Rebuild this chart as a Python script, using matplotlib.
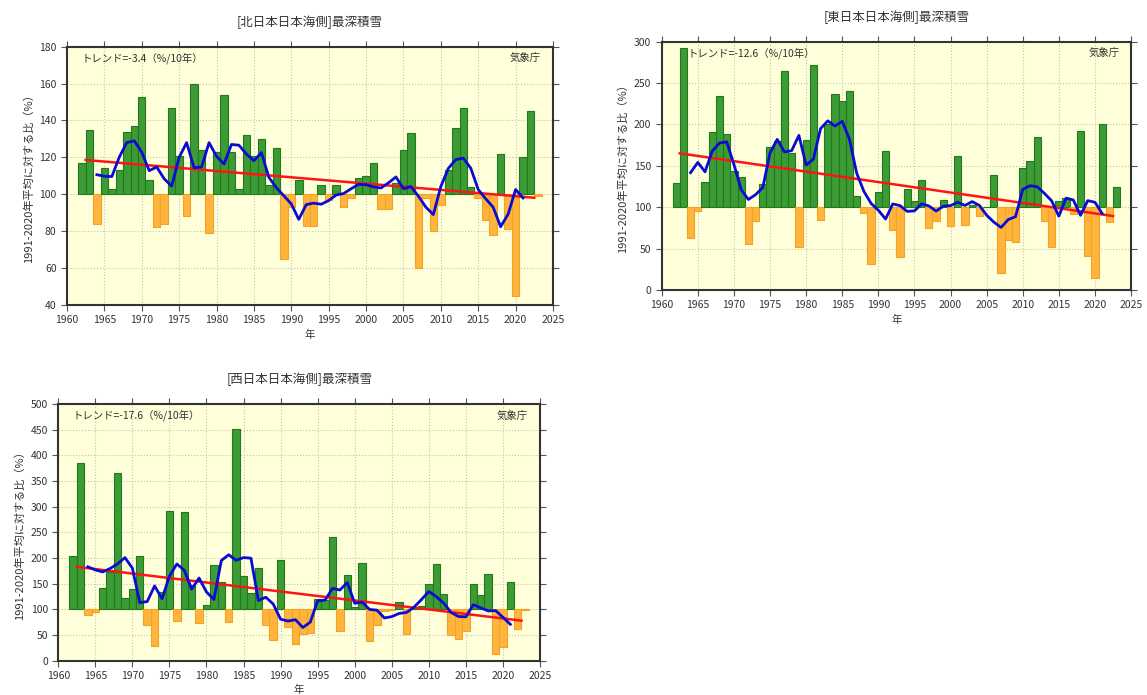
import numpy as np
import pandas as pd
import matplotlib
matplotlib.use("Agg")
import matplotlib.pyplot as plt

# fonte com japones
plt.rcParams['font.family'] = ['Noto Sans CJK JP', 'DejaVu Sans']

# anos (1962-2023)
anos = list(range(1962, 2024))

# razao do maior acumulo de neve em relacao a media 1991-2020 (%)
norte = [117, 135, 84, 114, 103, 113, 134, 137, 153, 108,
         82, 84, 147, 121, 88, 160, 124, 79, 123, 154,
         123, 103, 132, 121, 130, 105, 125, 65, 93, 108,
         83, 83, 105, 97, 105, 93, 98, 109, 110, 117,
         92, 92, 106, 124, 133, 60, 98, 80, 94, 113,
         136, 147, 104, 98, 86, 78, 122, 81, 45, 120,
         145, 99]

leste = [129, 292, 63, 95, 130, 191, 235, 188, 144, 137,
         55, 83, 128, 173, 180, 264, 165, 52, 181, 272,
         85, 200, 237, 228, 241, 113, 93, 31, 118, 168,
         72, 40, 122, 108, 133, 75, 83, 109, 77, 162,
         79, 103, 90, 100, 139, 20, 61, 58, 148, 156,
         185, 83, 52, 108, 111, 92, 192, 41, 15, 200,
         82, 124]

oeste = [203, 385, 89, 95, 142, 173, 365, 123, 140, 203,
         70, 29, 134, 292, 78, 290, 148, 73, 108, 186,
         154, 75, 452, 165, 132, 180, 69, 40, 197, 66,
         32, 51, 53, 121, 118, 240, 58, 167, 105, 191,
         38, 69, 96, 98, 115, 51, 100, 106, 149, 189,
         130, 50, 43, 58, 149, 127, 168, 13, 27, 153,
         62, 99]

titulos = ['[北日本日本海側]最深積雪', '[東日本日本海側]最深積雪', '[西日本日本海側]最深積雪']
tendencias = ['トレンド=-3.4（%/10年）', 'トレンド=-12.6（%/10年）', 'トレンド=-17.6（%/10年）']
ylabel = '1991-2020年平均に対する比（%）'


def painel(ax, valores, titulo, tendencia, xtexto, ymin, ymax, ystep):
    v = np.array(valores, dtype=float)
    cores = np.where(v >= 100, '#3d9b35', '#ffb53d')
    bordas = np.where(v >= 100, '#1f7a1c', '#f5a224')
    ax.bar(anos, v - 100, bottom=100, width=1.0, color=cores,
           edgecolor=bordas, linewidth=0.8, zorder=2)

    # media movel de 5 anos
    media = pd.Series(v, index=anos).rolling(5, center=True).mean()
    ax.plot(media.index, media.values, color='#0a0ad6', lw=2, zorder=4)

    # reta de tendencia
    a, b = np.polyfit(anos, v, 1)
    xt = np.array([anos[0] + 0.5, anos[-1] - 0.5])
    ax.plot(xt, a * xt + b, color='#ff1414', lw=1.8, zorder=3)

    ax.set_facecolor('#ffffda')
    ax.set_xlim(1960, 2025)
    ax.set_ylim(ymin, ymax)
    ax.set_xticks(range(1960, 2026, 5))
    ax.set_yticks(range(ymin, ymax + 1, ystep))
    ax.grid(True, color='#c4c4b0', linestyle=':', lw=0.8, zorder=0)
    ax.set_axisbelow(True)
    ax.tick_params(direction='out', top=True, right=True, length=4,
                   labelsize=7.5, labelcolor='#333333', color='#555555')
    for s in ax.spines.values():
        s.set_linewidth(1.5)
        s.set_color('#333333')

    ax.set_title(titulo, fontsize=9, color='#333333', pad=15)
    ax.set_ylabel(ylabel, fontsize=8, color='#333333')
    ax.set_xlabel('年', fontsize=7.5, color='#333333', labelpad=3)
    ax.text(xtexto, 0.955, tendencia, transform=ax.transAxes, fontsize=7.5,
            color='#333333', va='center', ha='left', zorder=5)
    ax.text(0.975, 0.955, '気象庁', transform=ax.transAxes, fontsize=7.5,
            color='#333333', va='center', ha='right', zorder=5)


fig = plt.figure(figsize=(11.47, 6.95), dpi=100)
ax1 = fig.add_axes([0.0584, 0.5612, 0.4237, 0.3716])
ax2 = fig.add_axes([0.5769, 0.5827, 0.4092, 0.3573])
ax3 = fig.add_axes([0.0508, 0.0494, 0.4200, 0.3693])

painel(ax1, norte, titulos[0], tendencias[0], 0.03, 40, 180, 20)
painel(ax2, leste, titulos[1], tendencias[1], 0.055, 0, 300, 50)
painel(ax3, oeste, titulos[2], tendencias[2], 0.03, 0, 500, 50)

fig.savefig('out.png', dpi=100)
